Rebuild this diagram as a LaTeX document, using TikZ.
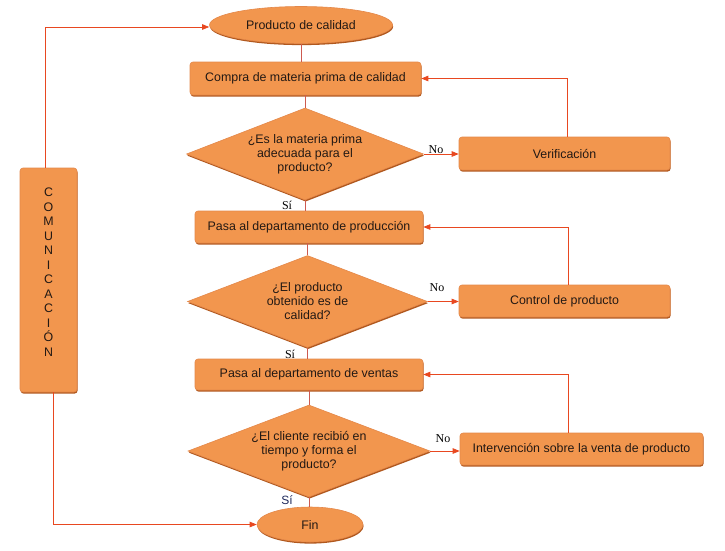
\documentclass[tikz,border=0pt]{standalone}
\usepackage{fontspec}
\setmainfont{Liberation Sans}
\newfontfamily\serifl{Liberation Serif}
\usetikzlibrary{shapes.geometric,arrows.meta,shadows}
\definecolor{boxfill}{RGB}{242,150,78}
\definecolor{boxedge}{RGB}{228,136,74}
\definecolor{boxshade}{RGB}{176,88,30}
\definecolor{arrowred}{RGB}{232,72,32}
\definecolor{linkred}{RGB}{205,90,80}
\definecolor{txtdark}{RGB}{35,25,20}
\definecolor{siblue}{RGB}{30,40,90}
\tikzset{
  base/.style={fill=boxfill,draw=boxedge,line width=0.6pt,text=txtdark,
    font=\fontsize{12.4}{14}\selectfont,inner sep=0pt,
    drop shadow={shadow xshift=0.6pt,shadow yshift=-1.6pt,fill=boxshade,opacity=1}},
  rbox/.style={base,rectangle,rounded corners=3pt},
  oval/.style={base,ellipse},
  dia/.style={base,diamond,minimum width=#1,minimum height=92pt},
  txt/.style={text=txtdark,font=\fontsize{12.4}{14}\selectfont,align=center,inner sep=0pt},
  link/.style={draw=linkred,line width=0.6pt},
  arr/.style={draw=arrowred,line width=0.7pt,-{Triangle[length=7pt,width=5.5pt]}},
  lab/.style={font=\serifl\fontsize{12}{14}\selectfont,text=black,inner sep=0pt}
}
\begin{document}
\begin{tikzpicture}[x=1pt,y=-1pt]
\useasboundingbox (0,0) rectangle (725,550);
% nodes
\node[oval,minimum width=183pt,minimum height=37pt] (pc) at (301,25) {Producto de calidad};
\node[rbox,minimum width=231pt,minimum height=33pt] (cmp) at (305.5,78.5) {Compra de materia prima de calidad};
\node[dia=237pt] (d1) at (305,154) {};
\node[txt] (t1) at (d1) {¿Es la materia prima\\adecuada para el\\producto?};
\node[rbox,minimum width=211pt,minimum height=33pt] (ver) at (564.5,153.5) {Verificación};
\node[rbox,minimum width=228pt,minimum height=32pt] (prod) at (309,227) {Pasa al departamento de producción};
\node[dia=240pt] (d2) at (307.5,301.5) {};
\node[txt] (t2) at (d2) {¿El producto\\obtenido es de\\calidad?};
\node[rbox,minimum width=211pt,minimum height=32pt] (ctl) at (564.5,301) {Control de producto};
\node[rbox,minimum width=228pt,minimum height=31pt] (ven) at (309,374.5) {Pasa al departamento de ventas};
\node[dia=242pt] (d3) at (309,451) {};
\node[txt] (t3) at (d3) {¿El cliente recibió en\\tiempo y forma el\\producto?};
\node[rbox,minimum width=243pt,minimum height=32pt] (iv) at (581.5,449) {Intervención sobre la venta de producto};
\node[oval,minimum width=106pt,minimum height=35pt] (fin) at (310,524.5) {Fin};
\node[rbox,minimum width=57pt,minimum height=224pt] (com) at (48.5,280) {};
\node[txt,font=\fontsize{12.4}{14.5}\selectfont] (comt) at (48.5,272)
  {C\\O\\M\\U\\N\\I\\C\\A\\C\\I\\Ó\\N};
% vertical links
\draw[link] (pc.south) -- (pc.south |- cmp.north);
\draw[link] (cmp.south -| d1.north) -- (d1.north);
\draw[link] (d1.south) -- (d1.south |- prod.north);
\draw[link] (prod.south -| d2.north) -- (d2.north);
\draw[link] (d2.south) -- (d2.south |- ven.north);
\draw[link] (ven.south -| d3.north) -- (d3.north);
\draw[link] (d3.south) -- (d3.south |- fin.north);
% no arrows
\draw[arr] (d1.east) -- (d1.east -| ver.west);
\draw[arr] (d2.east) -- (d2.east -| ctl.west);
\draw[arr] (d3.east) -- (d3.east -| iv.west);
% feedback
\draw[arr] ([xshift=2.5pt]ver.north) |- (cmp.east);
\draw[arr] ([xshift=3.5pt]ctl.north) |- (prod.east);
\draw[arr] ([xshift=-13.5pt]iv.north) |- (ven.east);
% communication
\draw[arr] ([xshift=-3.5pt]com.north) |- ([yshift=-2pt]pc.west);
\draw[arr] ([xshift=4.5pt]com.south) |- (fin.west);
% labels
\node[lab] (no1) at (436,150) {No};
\node[lab] (no2) at (437,288) {No};
\node[lab] (no3) at (443,439) {No};
\node[lab] (si1) at (287,205) {Sí};
\node[lab] (si2) at (290,354) {Sí};
\node[lab,font=\fontsize{12}{14}\selectfont,text=siblue] (si3) at (287,500) {Sí};
\end{tikzpicture}
\end{document}
